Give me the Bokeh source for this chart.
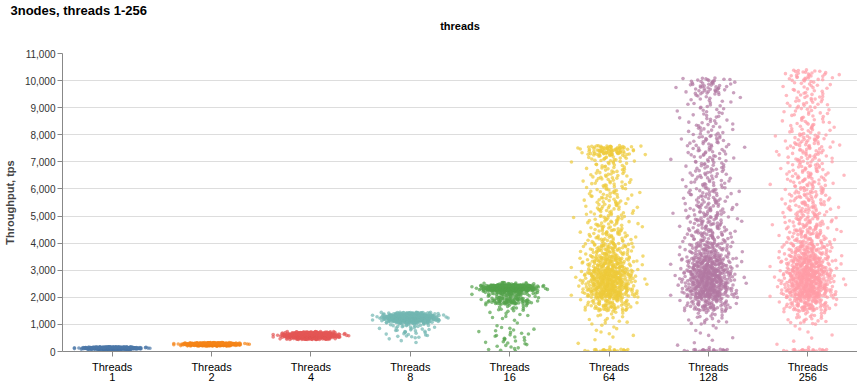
import math
from bokeh.plotting import figure
from bokeh.models import FixedTicker, Title, Range1d, NumeralTickFormatter, ColumnDataSource
from bokeh.embed import file_html
from bokeh.resources import INLINE

# ---------------- data ----------------
threads = [1, 2, 4, 8, 16, 64, 128, 256]
colors = ["#4c78a8", "#f58518", "#e45756", "#72b7b2",
          "#54a24b", "#eeca3b", "#b279a2", "#ff9da6"]

# Throughput histograms: (low, high, number of samples)
hist_t1 = [(40, 90, 30), (90, 110, 150), (110, 130, 300), (130, 150, 180), (150, 175, 40)]
hist_t2 = [(200, 240, 60), (240, 270, 300), (270, 300, 250), (300, 330, 40)]
hist_t4 = [(440, 520, 80), (520, 580, 250), (580, 640, 300), (640, 700, 100), (700, 740, 20)]
hist_t8 = [(300, 500, 3), (500, 700, 12), (700, 900, 15), (900, 1050, 20), (1050, 1150, 80),
           (1150, 1250, 220), (1250, 1350, 250), (1350, 1450, 60)]
hist_t16 = [(0, 300, 10), (300, 600, 12), (600, 900, 10), (900, 1200, 3), (1200, 1500, 8),
            (1500, 1750, 15), (1750, 1950, 70), (1950, 2100, 30), (2100, 2250, 60),
            (2250, 2450, 500), (2450, 2550, 20)]
hist_t64 = [(0, 80, 25), (100, 500, 3), (500, 1000, 8), (1000, 1500, 15), (1500, 2000, 80),
            (2000, 2500, 200), (2500, 3000, 210), (3000, 3500, 130), (3500, 4000, 80),
            (4000, 4500, 50), (4500, 5000, 40), (5000, 5500, 35), (5500, 6000, 32),
            (6000, 6500, 32), (6500, 7000, 32), (7000, 7250, 22), (7250, 7600, 90)]
hist_t128 = [(0, 80, 25), (100, 1000, 10), (1000, 1500, 20), (1500, 2000, 80), (2000, 2500, 180),
             (2500, 3000, 190), (3000, 3500, 140), (3500, 4000, 80), (4000, 4500, 55),
             (4500, 5000, 48), (5000, 5500, 42), (5500, 6000, 36), (6000, 6500, 30),
             (6500, 7000, 30), (7000, 7500, 30), (7500, 8000, 30), (8000, 8500, 22),
             (8500, 9000, 18), (9000, 9500, 18), (9500, 10100, 55)]
hist_t256 = [(0, 80, 25), (100, 1000, 8), (1000, 1500, 25), (1500, 2000, 90), (2000, 2500, 190),
             (2500, 3000, 190), (3000, 3500, 140), (3500, 4000, 90), (4000, 4500, 60),
             (4500, 5000, 52), (5000, 5500, 46), (5500, 6000, 42), (6000, 6500, 40),
             (6500, 7000, 36), (7000, 7500, 36), (7500, 8000, 40), (8000, 8500, 26),
             (8500, 9000, 22), (9000, 9500, 26), (9500, 10000, 22), (10000, 10400, 32)]
hists = [hist_t1, hist_t2, hist_t4, hist_t8, hist_t16, hist_t64, hist_t128, hist_t256]

tick_labels = ["Threads\n%d" % t for t in threads]
y_ticks = list(range(0, 11001, 1000))


def halton(i, b):
    f, r = 1.0, 0.0
    while i > 0:
        f /= b
        r += f * (i % b)
        i //= b
    return r


xs, ys, cs = [], [], []
for gi, h in enumerate(hists):
    k = 0
    for lo, hi, n in h:
        for j in range(n):
            k += 1
            v = lo + (hi - lo) * (j + 0.5) / n
            u1 = halton(k, 3)
            u2 = halton(k, 5)
            z = math.sqrt(-2.0 * math.log(u1)) * math.cos(2 * math.pi * u2)
            dx = max(-0.38, min(0.38, 0.125 * z))
            xs.append(gi + 0.5 + dx)
            ys.append(v)
            cs.append(colors[gi])

src = ColumnDataSource(dict(x=xs, y=ys, c=cs))

FW, FH = 795, 298
p = figure(frame_width=FW, frame_height=FH, output_backend="svg", toolbar_location=None,
           x_range=Range1d(0, 8), y_range=Range1d(0, 11000),
           min_border_left=58, min_border_right=0, min_border_top=0, min_border_bottom=0)

p.scatter("x", "y", source=src, size=3.6, fill_color="c", fill_alpha=0.7, line_color=None)

FONT = "Liberation Sans"

# spacer between the column header and the plot area
p.add_layout(Title(text=" ", text_font_size="1px", standoff=19), "above")
p.add_layout(Title(text="threads", align="center", text_font=FONT, text_font_size="11px",
                   text_font_style="bold", text_color="#000", standoff=0), "above")
p.add_layout(Title(text="3nodes, threads 1-256", align="left", offset=-52, text_font=FONT,
                   text_font_size="13px", text_font_style="bold", text_color="#000",
                   standoff=0), "above")

p.outline_line_color = None
p.xgrid.visible = False
p.ygrid.grid_line_color = "#dddddd"
p.ygrid.ticker = FixedTicker(ticks=y_ticks)

ya = p.yaxis[0]
ya.ticker = FixedTicker(ticks=y_ticks)
ya.formatter = NumeralTickFormatter(format="0,0")
ya.axis_label = "Throughput, tps"
ya.axis_label_text_font = FONT
ya.axis_label_text_font_size = "11px"
ya.axis_label_text_font_style = "bold"
ya.axis_label_standoff = 6
ya.major_label_text_font = FONT
ya.major_label_text_font_size = "10px"
ya.major_label_text_color = "#333"
ya.major_label_standoff = 2
ya.axis_line_color = "#888"
ya.major_tick_line_color = "#888"
ya.major_tick_out = 5
ya.major_tick_in = 0
ya.minor_tick_line_color = None

xa = p.xaxis[0]
xa.ticker = FixedTicker(ticks=[i + 0.5 for i in range(8)])
xa.major_label_overrides = {i + 0.5: tick_labels[i] for i in range(8)}
xa.major_label_text_font = FONT
xa.major_label_text_font_size = "11px"
xa.major_label_text_color = "#000"
xa.major_label_text_line_height = 0.9
xa.major_label_standoff = 4
xa.axis_line_color = "#888"
xa.major_tick_line_color = "#888"
xa.major_tick_out = 5
xa.major_tick_in = 0
xa.minor_tick_line_color = None

open("out.html", "w").write(file_html(p, INLINE))
